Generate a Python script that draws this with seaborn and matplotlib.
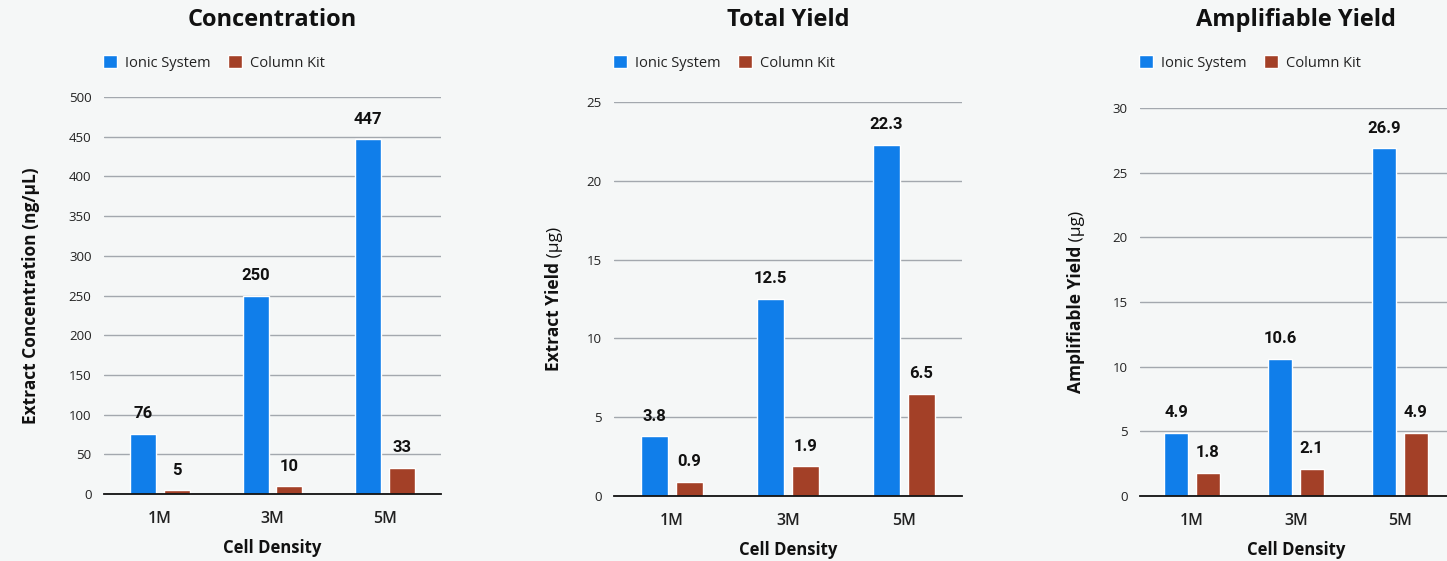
import pandas as pd
import matplotlib.pyplot as plt
import seaborn as sns

# --- data ---
densities = ["1M", "3M", "5M"]
methods = ["Ionic System", "Column Kit"]

conc_ionic = [76, 250, 447]
conc_column = [5, 10, 33]

total_ionic = [3.8, 12.5, 22.3]
total_column = [0.9, 1.9, 6.5]

amp_ionic = [4.9, 10.6, 26.9]
amp_column = [1.8, 2.1, 4.9]

BG = "#f5f7f7"
COLORS = {"Ionic System": "#107eea", "Column Kit": "#a34027"}
GRID = "#a3a8ae"
W, H = 1447, 561


def to_long(ionic, column):
    return pd.DataFrame({
        "Cell Density": densities * 2,
        "Method": [methods[0]] * 3 + [methods[1]] * 3,
        "Value": list(ionic) + list(column),
    })


sns.set_theme(style="white")
plt.rcParams["font.family"] = ["Open Sans", "DejaVu Sans"]
plt.rcParams["figure.facecolor"] = BG
plt.rcParams["axes.facecolor"] = BG

fig = plt.figure(figsize=(W / 100, H / 100), dpi=100)

panels = [
    # title, ylabel (bold part, regular part), ionic, column, ymax, step, fmt,
    # axes rect, ylabel right edge (px)
    ("Concentration", ("Extract Concentration (ng/μL)", ""), conc_ionic, conc_column,
     500, 50, "{:.0f}", [0.0719, 0.1194, 0.2329, 0.7077], 40),
    ("Total Yield", ("Extract Yield", " (μg)"), total_ionic, total_column,
     25, 5, "{:.1f}", [0.4243, 0.1159, 0.2405, 0.7023], 563),
    ("Amplifiable Yield", ("Amplifiable Yield", " (μg)"), amp_ionic, amp_column,
     30, 5, "{:.1f}", [0.7878, 0.1159, 0.2156, 0.6916], 1085),
]

ylabel_parts = []
for title, ylab, ionic, column, ymax, step, fmt, rect, ylx in panels:
    ax = fig.add_axes(rect)
    df = to_long(ionic, column)
    sns.barplot(data=df, x="Cell Density", y="Value", hue="Method",
                palette=COLORS, width=0.6, gap=0.23, saturation=1,
                ax=ax, legend=True)

    ax.set_ylim(0, ymax)
    ax.set_yticks(range(0, ymax + 1, step))
    ax.yaxis.grid(True, color=GRID, linewidth=1)
    ax.set_axisbelow(True)
    for s in ["top", "right", "left"]:
        ax.spines[s].set_visible(False)
    ax.spines["bottom"].set_color("#111111")
    ax.spines["bottom"].set_linewidth(1.3)
    ax.spines["bottom"].set_zorder(5)

    ax.tick_params(axis="y", length=0, pad=9, labelsize=9.5, labelcolor="#222222")
    ax.tick_params(axis="x", length=0, pad=12, labelsize=11.5, labelcolor="#222222")
    for lab in ax.get_xticklabels():
        lab.set_fontweight("semibold")

    ax.set_xlabel("Cell Density", fontsize=12, fontweight="bold", color="#111111", labelpad=9)
    ax.set_ylabel("")

    # title centred over the axes, same height for all three
    cx = rect[0] + rect[2] / 2
    fig.text(cx, 1 - 20 / H, title, ha="center", va="center",
             fontsize=17, fontweight="bold", color="#111111")

    for cont in ax.containers:
        ax.bar_label(cont, labels=[fmt.format(v) for v in cont.datavalues],
                     padding=9, fontsize=12, fontweight="bold",
                     family=["Roboto", "DejaVu Sans"], color="#111111")

    leg = ax.legend(loc="center left", bbox_to_anchor=(rect[0] - 1 / W, 1 - 63 / H),
                    bbox_transform=fig.transFigure,
                    ncol=2, frameon=False, fontsize=10.5, borderaxespad=0, borderpad=0,
                    handlelength=0.95, handleheight=0.95, handletextpad=0.55,
                    columnspacing=1.2)
    for t in leg.get_texts():
        t.set_color("#222222")

    # y label in two weights, centred on the axes
    ymid = rect[1] + rect[3] / 2
    t1 = fig.text(ylx / W, ymid, ylab[0], rotation=90, ha="right", va="center",
                  fontsize=12.5, fontweight="bold", color="#111111")
    t2 = fig.text(ylx / W, ymid, ylab[1], rotation=90, ha="right", va="center",
                  fontsize=12.5, color="#111111")
    ylabel_parts.append((t1, t2, ymid))

# shift the two label parts so the pair is centred together
fig.canvas.draw()
r = fig.canvas.get_renderer()
for t1, t2, ymid in ylabel_parts:
    b1 = t1.get_window_extent(r)
    b2 = t2.get_window_extent(r) if t2.get_text() else None
    h1 = b1.height
    h2 = b2.height if b2 is not None else 0
    total = h1 + h2
    mid_px = ymid * H
    y1_c = mid_px - total / 2 + h1 / 2
    t1.set_y(y1_c / H)
    if b2 is not None:
        y2_c = mid_px - total / 2 + h1 + h2 / 2
        t2.set_y(y2_c / H)

fig.savefig("out.png", dpi=100, facecolor=BG)
